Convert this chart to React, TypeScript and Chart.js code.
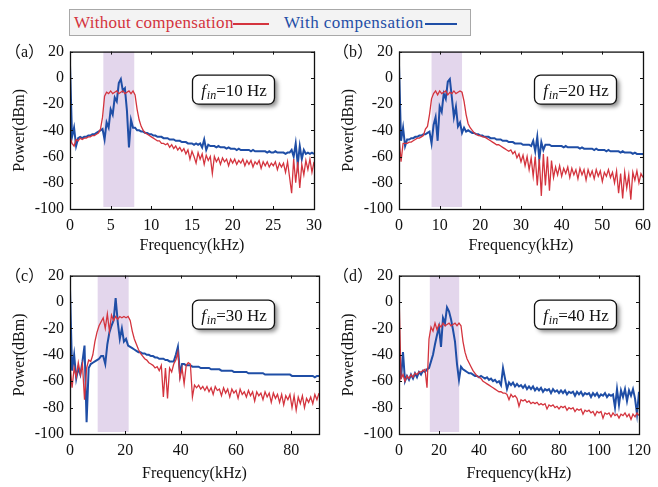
import React, { useEffect, useRef } from "react";
import { Chart, registerables } from "chart.js";
Chart.register(...registerables);

const RED = "#d4343e";
const BLUE = "#1f4ea6";
const BAND = "#e3d6ec";
const FONT = '"Liberation Serif", "Times New Roman", serif';
const FONT_CJK = '"Liberation Serif", "Noto Sans CJK SC", serif';

const Y_TICKS = [-100, -80, -60, -40, -20, 0, 20];

// ---------- panel (a): 0-30 kHz, sample step 0.25 kHz ----------
const A_STEP = 0.25;
const A_XTICKS = [0, 5, 10, 15, 20, 25, 30];
const A_BAND = [4.1, 7.9];
const A_RED = [
  -45, -50, -52, -47, -48, -46, -47, -46, -46, -45,
  -45, -44, -44, -43, -42, -39, -30, -14, -11, -12,
  -10, -12, -11, -10, -12, -11, -10, -12, -11, -10,
  -12, -10, -13, -24, -32, -37, -40, -42, -43, -44,
  -45, -46, -47, -48, -48, -50, -50, -51, -50, -53,
  -51, -54, -52, -55, -53, -56, -54, -58, -55, -62,
  -56, -60, -65, -57, -62, -58, -66, -59, -63, -60,
  -73, -60, -64, -61, -66, -61, -64, -62, -67, -62,
  -65, -62, -66, -63, -65, -62, -67, -63, -66, -63,
  -68, -64, -66, -63, -69, -64, -67, -64, -68, -65,
  -67, -64, -70, -65, -68, -65, -72, -64, -76, -88,
  -62, -80, -64, -84, -66, -74, -63, -70, -62, -72,
  -64,
];
const A_BLUE = [
  10, -45, -38, -52, -46, -45, -46, -45, -45, -44,
  -44, -43, -43, -42, -41, -40, -39, -47, -34, -38,
  -24, -28, -15, -18, -4, -1, -10, -8, -25, -53,
  -32, -38, -38, -40, -40, -41, -41, -42, -42, -43,
  -43, -44, -44, -45, -45, -45, -46, -46, -46, -47,
  -47, -47, -48, -48, -48, -49, -49, -49, -50, -50,
  -50, -51, -50, -51, -50, -53, -47, -55, -51, -52,
  -52, -52, -53, -52, -53, -53, -53, -54, -53, -54,
  -54, -54, -55, -54, -55, -55, -55, -55, -55, -56,
  -55, -56, -56, -56, -56, -56, -56, -57, -56, -57,
  -57, -56, -57, -57, -57, -57, -58, -57, -57, -55,
  -60, -50, -66, -52, -62, -55, -58, -57, -58, -57,
  -58,
];

// ---------- panel (b): 0-60 kHz, sample step 0.5 kHz ----------
const B_STEP = 0.5;
const B_XTICKS = [0, 10, 20, 30, 40, 50, 60];
const B_BAND = [8.0, 15.5];
const B_RED = [
  -45, -64, -50, -50, -50, -49, -49, -48, -47, -46,
  -46, -45, -44, -39, -37, -28, -16, -12, -10, -13,
  -10, -12, -11, -10, -13, -11, -12, -10, -12, -11,
  -10, -11, -18, -28, -35, -38, -40, -42, -43, -44,
  -44, -45, -45, -46, -47, -48, -49, -50, -51, -51,
  -52, -53, -54, -55, -56, -55, -58, -56, -61, -58,
  -64, -59, -67, -60, -70, -61, -75, -60, -82, -62,
  -90, -58, -82, -60, -86, -63, -76, -68, -74, -67,
  -75, -69, -73, -68, -76, -69, -74, -70, -77, -69,
  -74, -70, -78, -70, -75, -71, -77, -70, -75, -71,
  -79, -72, -75, -70, -76, -72, -80, -71, -88, -73,
  -92, -72, -84, -74, -93, -72, -78, -71, -80, -73,
  -76,
];
const B_BLUE = [
  10, -48, -38, -52, -47, -47, -46, -46, -45, -45,
  -44, -44, -43, -43, -42, -41, -50, -36, -30, -48,
  -22, -26, -12, -16, -3, -1, -15, -30, -22, -37,
  -34, -42, -38, -41, -40, -41, -42, -42, -43, -43,
  -44, -44, -45, -45, -45, -46, -46, -46, -47, -47,
  -47, -48, -48, -48, -49, -49, -49, -50, -50, -50,
  -50, -51, -51, -51, -51, -52, -48, -56, -45, -62,
  -49, -55, -51, -51, -51, -52, -52, -52, -52, -52,
  -52, -53, -52, -53, -53, -53, -53, -53, -53, -54,
  -53, -54, -54, -54, -54, -54, -55, -54, -55, -55,
  -55, -55, -56, -55, -56, -56, -56, -56, -56, -57,
  -56, -57, -57, -57, -57, -58, -57, -58, -58, -58,
  -58,
];

// ---------- panel (c): 0-90 kHz, sample step 0.75 kHz ----------
const C_STEP = 0.75;
const C_XTICKS = [0, 20, 40, 60, 80];
const C_BAND = [10.0, 21.2];
const C_RED = [
  -48, -65, -50, -57, -46, -55, -47, -74, -50, -44,
  -45, -40, -30, -23, -18, -15, -12, -20, -9, -22,
  -10, -14, -11, -13, -11, -12, -11, -12, -11, -14,
  -22, -28, -32, -36, -39, -41, -43, -44, -46, -47,
  -48, -50, -49, -52, -48, -72, -50, -73, -50, -53,
  -47, -44, -38, -58, -50, -62, -48, -46, -47, -72,
  -63, -65, -63, -66, -64, -67, -64, -68, -65, -70,
  -64, -67, -66, -71, -65, -69, -66, -72, -66, -69,
  -67, -73, -66, -70, -68, -72, -67, -71, -68, -75,
  -68, -71, -69, -74, -68, -72, -69, -76, -69, -73,
  -70, -76, -70, -78, -71, -74, -70, -80, -71, -82,
  -72, -77, -71, -80, -73, -76, -72, -77, -70, -74,
  -69,
];
const C_BLUE = [
  10, -52, -40, -58, -50, -55, -45, -33, -91, -50,
  -47, -46, -45, -44, -43, -41, -41, -47, -32, -23,
  -18, -14, 3, -15, -28, -20, -30, -28, -33, -34,
  -35, -36, -37, -38, -38, -39, -39, -40, -40, -41,
  -41, -42, -42, -43, -43, -43, -44, -44, -45, -45,
  -45, -40, -34, -55, -47, -47, -48, -48, -48, -49,
  -49, -49, -49, -50, -50, -50, -50, -50, -51, -51,
  -51, -51, -51, -52, -52, -52, -52, -52, -52, -53,
  -53, -53, -53, -53, -53, -53, -54, -54, -54, -54,
  -54, -54, -54, -54, -55, -55, -55, -55, -55, -55,
  -55, -55, -55, -55, -55, -55, -55, -56, -56, -56,
  -56, -56, -56, -56, -56, -56, -56, -56, -57, -56,
  -56,
];

// ---------- panel (d): 0-120 kHz, sample step 1 kHz ----------
const D_STEP = 1;
const D_XTICKS = [0, 20, 40, 60, 80, 100, 120];
const D_BAND = [15.4, 30.1];
const D_RED = [
  8, -58, -55, -60, -56, -58, -55, -57, -54, -55,
  -53, -53, -52, -51, -65, -28, -19, -22, -16, -21,
  -17, -19, -16, -18, -17, -16, -18, -17, -16, -18,
  -16, -18, -30, -38, -43, -46, -49, -52, -54, -56,
  -57, -58, -60, -61, -62, -63, -64, -65, -66, -67,
  -68, -68, -69, -69, -70, -74, -70, -72, -71, -73,
  -79, -74, -75, -74, -76, -75, -77, -76, -77, -76,
  -78, -77, -78, -77, -81, -78, -79, -78, -80, -79,
  -81, -79, -80, -79, -82, -80, -81, -80, -83, -81,
  -82, -81, -85, -82, -83, -82, -84, -83, -86, -83,
  -84, -83, -88, -84, -85, -84, -87, -84, -86, -85,
  -88, -85, -86, -84, -87, -85, -89, -85, -87, -84,
  -86,
];
const D_BLUE = [
  -40, -58, -38, -60, -56, -59, -55, -58, -54, -57,
  -53, -55, -52, -53, -51, -50, -45, -40, -32, -25,
  -19, -34, -12, -16, -4, -7, -13, -21, -30, -47,
  -59, -49, -51, -52, -53, -54, -54, -55, -56, -56,
  -57, -56, -57, -58, -57, -59, -58, -60, -59, -61,
  -60, -63, -50, -58, -66, -61, -63, -61, -64, -62,
  -64, -63, -65, -63, -66, -64, -66, -64, -67, -65,
  -67, -65, -68, -66, -67, -66, -69, -66, -68, -67,
  -69, -67, -69, -67, -70, -68, -69, -68, -71, -68,
  -70, -68, -71, -69, -70, -69, -72, -69, -71, -69,
  -72, -70, -71, -69, -72, -70, -71, -70, -80, -66,
  -78, -67, -72, -66, -75, -67, -71, -66, -73, -85,
  -68,
];

type PanelCfg = {
  tag: string;
  fin: string;
  left: number;
  top: number;
  w: number;
  h: number;
  padTop: number;
  padRight: number;
  yAxisW: number;
  xAxisH: number;
  xTitlePad: number;
  xmax: number;
  step: number;
  xticks: number[];
  band: number[];
  red: number[];
  blue: number[];
  boxDx: number;
  boxDy: number;
};

const PANELS: PanelCfg[] = [
  { tag: "（a）", fin: "=10 Hz", left: 0, top: 36, w: 329, h: 222, padTop: 12, padRight: 10, yAxisW: 70, xAxisH: 49, xTitlePad: 2.4, xmax: 30, step: A_STEP, xticks: A_XTICKS, band: A_BAND, red: A_RED, blue: A_BLUE, boxDx: 122, boxDy: 23 },
  { tag: "（b）", fin: "=20 Hz", left: 329, top: 36, w: 329, h: 222, padTop: 12, padRight: 11, yAxisW: 70, xAxisH: 49, xTitlePad: 2.4, xmax: 60, step: B_STEP, xticks: B_XTICKS, band: B_BAND, red: B_RED, blue: B_BLUE, boxDx: 135, boxDy: 23 },
  { tag: "（c）", fin: "=30 Hz", left: 0, top: 260, w: 329, h: 227, padTop: 12, padRight: 10, yAxisW: 70, xAxisH: 53, xTitlePad: 3.4, xmax: 90, step: C_STEP, xticks: C_XTICKS, band: C_BAND, red: C_RED, blue: C_BLUE, boxDx: 122, boxDy: 24 },
  { tag: "（d）", fin: "=40 Hz", left: 329, top: 260, w: 329, h: 227, padTop: 12, padRight: 9, yAxisW: 70, xAxisH: 53, xTitlePad: 3.4, xmax: 120, step: D_STEP, xticks: D_XTICKS, band: D_BAND, red: D_RED, blue: D_BLUE, boxDx: 135, boxDy: 24 },
];

function toPoints(ys: number[], step: number) {
  return ys.map((y, i) => ({ x: Math.round(i * step * 1000) / 1000, y }));
}

function roundRectPath(ctx: CanvasRenderingContext2D, x: number, y: number, w: number, h: number, r: number) {
  ctx.beginPath();
  ctx.moveTo(x + r, y);
  ctx.lineTo(x + w - r, y);
  ctx.arcTo(x + w, y, x + w, y + r, r);
  ctx.lineTo(x + w, y + h - r);
  ctx.arcTo(x + w, y + h, x + w - r, y + h, r);
  ctx.lineTo(x + r, y + h);
  ctx.arcTo(x, y + h, x, y + h - r, r);
  ctx.lineTo(x, y + r);
  ctx.arcTo(x, y, x + r, y, r);
  ctx.closePath();
}

function makeDeco(p: PanelCfg) {
  return {
    id: "deco",
    beforeDatasetsDraw(chart: any) {
      const { ctx, scales } = chart;
      const x = scales.x, y = scales.y;
      const x1 = x.getPixelForValue(p.band[0]);
      const x2 = x.getPixelForValue(p.band[1]);
      const y1 = y.getPixelForValue(20);
      const y2 = y.getPixelForValue(-98.5);
      ctx.save();
      ctx.fillStyle = BAND;
      ctx.fillRect(x1, y1, x2 - x1, y2 - y1);
      ctx.restore();
    },
    afterDatasetsDraw(chart: any) {
      const { ctx, chartArea: a, scales } = chart;
      const x = scales.x, y = scales.y;
      ctx.save();
      // frame
      ctx.strokeStyle = "#111";
      ctx.lineWidth = 1.3;
      ctx.strokeRect(a.left + 0.5, a.top + 0.5, a.right - a.left, a.bottom - a.top);
      // inward ticks
      ctx.lineWidth = 1;
      ctx.beginPath();
      for (const v of p.xticks) {
        const px = Math.round(x.getPixelForValue(v)) + 0.5;
        ctx.moveTo(px, a.bottom);
        ctx.lineTo(px, a.bottom - 3);
        ctx.moveTo(px, a.top);
        ctx.lineTo(px, a.top + 3);
      }
      for (const v of Y_TICKS) {
        const py = Math.round(y.getPixelForValue(v)) + 0.5;
        ctx.moveTo(a.left, py);
        ctx.lineTo(a.left + 3, py);
        ctx.moveTo(a.right, py);
        ctx.lineTo(a.right - 3, py);
      }
      ctx.stroke();

      // annotation box
      const bx = a.left + p.boxDx, by = a.top + p.boxDy, bw = 82, bh = 29;
      ctx.save();
      ctx.shadowColor = "rgba(0,0,0,0.45)";
      ctx.shadowBlur = 4;
      ctx.shadowOffsetX = 3;
      ctx.shadowOffsetY = 3;
      ctx.fillStyle = "#fff";
      roundRectPath(ctx, bx + 0.5, by + 0.5, bw, bh, 6);
      ctx.fill();
      ctx.restore();
      ctx.strokeStyle = "#111";
      ctx.lineWidth = 1.3;
      roundRectPath(ctx, bx + 0.5, by + 0.5, bw, bh, 6);
      ctx.stroke();

      ctx.fillStyle = "#111";
      ctx.textBaseline = "alphabetic";
      ctx.textAlign = "left";
      ctx.font = `italic 17px ${FONT}`;
      const wF = ctx.measureText("f").width;
      ctx.font = `italic 12px ${FONT}`;
      const wIn = ctx.measureText("in").width;
      ctx.font = `17px ${FONT}`;
      const wRest = ctx.measureText(p.fin).width;
      const total = wF + 1 + wIn + wRest;
      let tx = bx + (bw - total) / 2 + 1;
      const base = by + 21.5;
      ctx.font = `italic 17px ${FONT}`;
      ctx.fillText("f", tx, base);
      tx += wF + 1;
      ctx.font = `italic 12px ${FONT}`;
      ctx.fillText("in", tx, base + 3);
      tx += wIn;
      ctx.font = `17px ${FONT}`;
      ctx.fillText(p.fin, tx, base);

      // panel tag
      ctx.font = `16px ${FONT_CJK}`;
      ctx.textAlign = "right";
      ctx.textBaseline = "middle";
      ctx.fillText(p.tag, a.left - 26, a.top + 1);
      ctx.restore();
    },
  };
}

function Panel({ p }: { p: PanelCfg }) {
  const ref = useRef<HTMLCanvasElement | null>(null);
  useEffect(() => {
    if (!ref.current) return;
    const tickFont = { family: FONT, size: 16 };
    const chart = new Chart(ref.current, {
      type: "line",
      data: {
        datasets: [
          { label: "Without compensation", data: toPoints(p.red, p.step), borderColor: RED, borderWidth: 1.3, pointRadius: 0, tension: 0, fill: false },
          { label: "With compensation", data: toPoints(p.blue, p.step), borderColor: BLUE, borderWidth: 2, pointRadius: 0, tension: 0, fill: false },
        ],
      },
      options: {
        animation: false,
        responsive: false,
        maintainAspectRatio: false,
        events: [],
        layout: { padding: { left: 0, top: p.padTop, right: p.padRight, bottom: 0 } },
        plugins: { legend: { display: false }, tooltip: { enabled: false } },
        scales: {
          x: {
            type: "linear",
            min: 0,
            max: p.xmax,
            afterBuildTicks: (s: any) => { s.ticks = p.xticks.map((v) => ({ value: v })); },
            afterFit: (s: any) => { s.height = p.xAxisH; },
            grid: { display: false, drawTicks: false },
            border: { display: false },
            ticks: { font: tickFont, color: "#111", padding: 7, maxRotation: 0, autoSkip: false },
            title: { display: true, text: "Frequency(kHz)", font: tickFont, color: "#111", padding: { top: 0, bottom: p.xTitlePad } },
          },
          y: {
            min: -100,
            max: 20,
            afterBuildTicks: (s: any) => { s.ticks = Y_TICKS.map((v) => ({ value: v })); },
            afterFit: (s: any) => { s.width = p.yAxisW; },
            grid: { display: false, drawTicks: false },
            border: { display: false },
            ticks: { font: tickFont, color: "#111", padding: 6, autoSkip: false },
            title: { display: true, text: "Power(dBm)", font: tickFont, color: "#111", padding: { top: 10.4, bottom: 0 } },
          },
        },
      } as any,
      plugins: [makeDeco(p)],
    });
    return () => chart.destroy();
  }, [p]);
  return (
    <canvas
      ref={ref}
      width={p.w}
      height={p.h}
      style={{ position: "absolute", left: p.left, top: p.top, width: p.w, height: p.h }}
    />
  );
}

export default function App() {
  return (
    <div style={{ position: "absolute", left: 0, top: 0, width: 658, height: 487, background: "#fff", overflow: "hidden" }}>
      <div
        style={{
          position: "absolute",
          left: 69,
          top: 9,
          width: 402,
          height: 27,
          boxSizing: "border-box",
          border: "1px solid #a8a8a8",
          background: "#f3f3f3",
          fontFamily: FONT,
          fontSize: 17,
          lineHeight: "19px",
          letterSpacing: "0.3px",
          whiteSpace: "nowrap",
        }}
      >
        <span style={{ position: "absolute", left: 4, top: 3, color: RED }}>Without compensation</span>
        <div style={{ position: "absolute", left: 163, top: 13, width: 36, height: 1.5, background: RED }} />
        <span style={{ position: "absolute", left: 214, top: 3, color: BLUE, letterSpacing: "0.45px" }}>With compensation</span>
        <div style={{ position: "absolute", left: 355, top: 13, width: 32, height: 1.5, background: BLUE }} />
      </div>
      {PANELS.map((p) => (
        <Panel key={p.tag} p={p} />
      ))}
    </div>
  );
}
